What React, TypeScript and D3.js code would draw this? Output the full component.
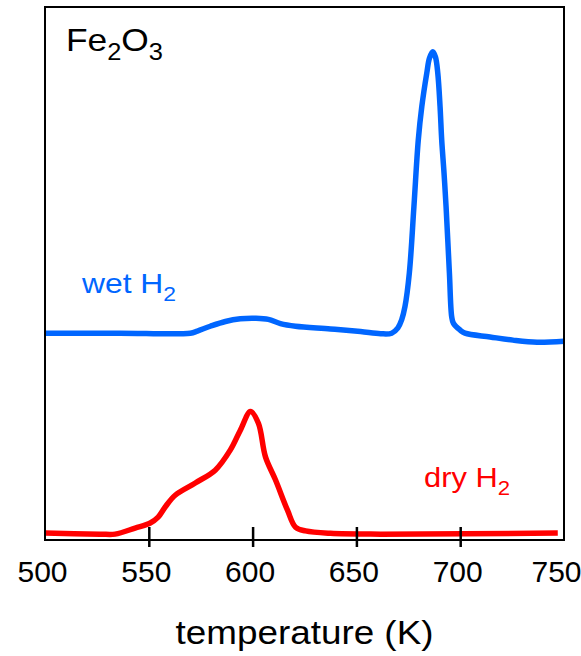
import React, { useEffect, useRef } from 'react';
import * as d3 from 'd3';

// wet H2 trace (temperature K, intensity a.u.)
const wetT = [500, 536, 570, 573.4, 579.6, 586.9, 594.1, 601.4, 607.6, 613.4, 620.7, 637.5, 652, 661.7, 667, 670, 671.8, 673.4, 675.5, 677.7, 679.8, 681.5, 683.9, 685.2, 686.8, 688.1, 689.2, 690.3, 691.1, 692.2, 693.2, 694.8, 695.9, 696.7, 699.9, 702.3, 714.4, 725.4, 737, 750];
const wetI = [38.8, 38.8, 38.8, 39.2, 40.1, 41.0, 41.5, 41.6, 41.4, 40.6, 40.1, 39.6, 39.1, 38.7, 38.8, 39.8, 41.3, 43.8, 50.1, 62.5, 75.0, 81.3, 87.6, 90.4, 91.6, 90.6, 87.6, 81.3, 75.0, 68.9, 62.5, 50.1, 41.9, 40.7, 39.4, 38.8, 38.1, 37.5, 37.1, 37.3];

// dry H2 trace
const dryT = [500, 526.5, 533.8, 543.4, 550.7, 554.5, 557.9, 562.7, 572.4, 582, 589.3, 594.1, 599, 602.8, 606.2, 611, 616.8, 620.7, 625.5, 637.5, 661.7, 747];
const dryI = [1.3, 1.1, 1.1, 2.25, 3.2, 4.3, 6.2, 8.4, 10.7, 13.1, 16.9, 20.6, 24.1, 21.9, 15.6, 11.3, 5.6, 2.4, 1.7, 1.25, 1.1, 1.3];

const tickVals = [500, 550, 600, 650, 700, 750];

const W = 581;
const H = 656;
const margin = { top: 7, right: 17, bottom: 116, left: 45 };
const font = 'Liberation Sans, Arial, sans-serif';

export default function App() {
  const ref = useRef<SVGSVGElement>(null);

  useEffect(() => {
    const svg = d3.select(ref.current);
    svg.selectAll('*').remove();

    const x = d3.scaleLinear().domain([500, 750]).range([margin.left, W - margin.right]);
    const y = d3.scaleLinear().domain([0, 100]).range([H - margin.bottom, margin.top]);

    const line = d3
      .line<[number, number]>()
      .x(d => x(d[0]))
      .y(d => y(d[1]))
      .curve(d3.curveCatmullRom.alpha(0.5));

    svg.append('path')
      .datum(wetT.map((t, i) => [t, wetI[i]] as [number, number]))
      .attr('fill', 'none')
      .attr('stroke', '#0066ff')
      .attr('stroke-width', 5.5)
      .attr('stroke-linejoin', 'round')
      .attr('d', line);

    svg.append('path')
      .datum(dryT.map((t, i) => [t, dryI[i]] as [number, number]))
      .attr('fill', 'none')
      .attr('stroke', '#ff0000')
      .attr('stroke-width', 5.5)
      .attr('stroke-linejoin', 'round')
      .attr('d', line);

    // frame
    svg.append('rect')
      .attr('x', margin.left)
      .attr('y', margin.top)
      .attr('width', W - margin.left - margin.right)
      .attr('height', H - margin.top - margin.bottom)
      .attr('fill', 'none')
      .attr('stroke', '#000')
      .attr('stroke-width', 2);

    // x axis, ticks cross the bottom line
    const ax = svg.append('g')
      .attr('transform', `translate(0,${H - margin.bottom})`)
      .call(d3.axisBottom(x).tickValues(tickVals).tickFormat(d3.format('d')).tickSize(7).tickPadding(14));
    ax.select('.domain').remove();
    ax.selectAll('.tick line')
      .attr('y1', -13)
      .attr('y2', 7)
      .attr('stroke', '#000')
      .attr('stroke-width', 2.5)
      .attr('display', (d: any) => (d === 500 || d === 750 ? 'none' : null));
    ax.selectAll('.tick text')
      .attr('font-family', font)
      .attr('font-size', 30)
      .attr('fill', '#000')
      .attr('dx', (d: any) => (d === 750 ? -8 : -3));

    svg.append('text')
      .attr('x', (margin.left + W - margin.right) / 2)
      .attr('y', 644)
      .attr('text-anchor', 'middle')
      .attr('font-family', font)
      .attr('font-size', 33)
      .attr('textLength', 258)
      .attr('lengthAdjust', 'spacingAndGlyphs')
      .text('temperature (K)');

    // labels with subscripts
    const sub = (tx: number, ty: number, parts: [string, boolean][], size: number, color: string, len: number) => {
      const t = svg.append('text')
        .attr('x', tx)
        .attr('y', ty)
        .attr('font-family', font)
        .attr('font-size', size)
        .attr('fill', color)
        .attr('textLength', len)
        .attr('lengthAdjust', 'spacingAndGlyphs');
      let shifted = false;
      parts.forEach(([s, isSub]) => {
        const dy = isSub && !shifted ? size * 0.28 : !isSub && shifted ? -size * 0.28 : 0;
        t.append('tspan')
          .attr('font-size', isSub ? size * 0.72 : size)
          .attr('dy', dy)
          .text(s);
        shifted = isSub;
      });
    };
    sub(66, 51, [['Fe', false], ['2', true], ['O', false], ['3', true]], 32, '#000', 97);
    sub(82, 293, [['wet H', false], ['2', true]], 28, '#0066ff', 94);
    sub(424, 487, [['dry H', false], ['2', true]], 28, '#ff0000', 86);
  }, []);

  return (
    <svg
      ref={ref}
      width={W}
      height={H}
      style={{ position: 'absolute', left: 0, top: 0, background: '#fff' }}
    />
  );
}
